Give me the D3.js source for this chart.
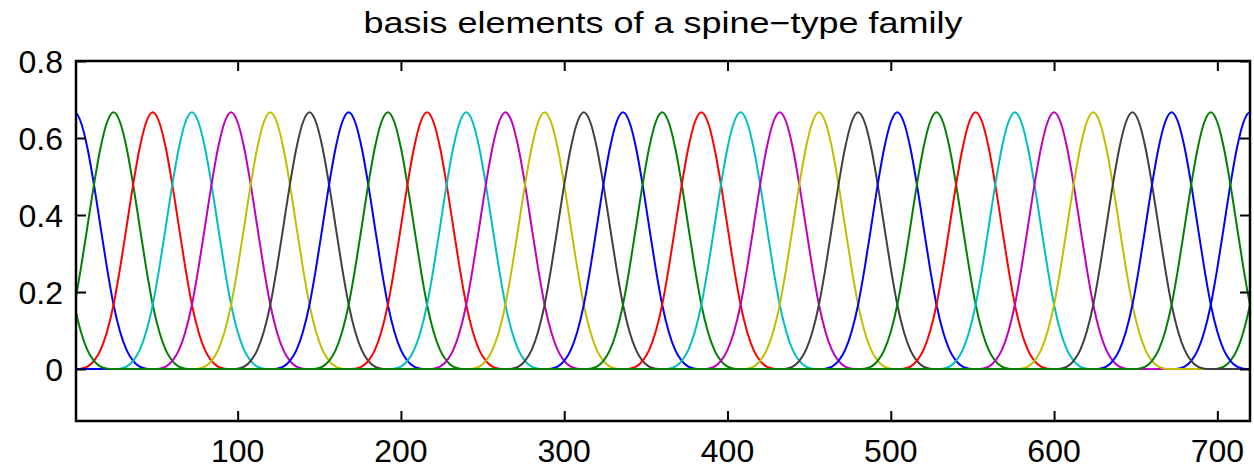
<!DOCTYPE html>
<html>
<head>
<meta charset="utf-8">
<script src="https://cdn.jsdelivr.net/npm/d3@7"></script>
<style>
    body { margin: 0; background: #fff; }
    svg { display: block; font-family: "Liberation Sans", Arial, sans-serif; }
    .tickLabel { font-size: 32px; fill: #000; }
    .chartTitle { font-size: 29px; fill: #000; }
</style>
</head>
<body>
<div id="chart" style="width:1254px;height:471px;"><svg width="1254" height="471"></svg></div>
<script>

// centres of the basis bumps (one period of 720)
const centres = [0, 24, 48, 72, 96, 120, 144, 168, 192, 216, 240, 264, 288, 312, 336,
                 360, 384, 408, 432, 456, 480, 504, 528, 552, 576, 600, 624, 648, 672, 696];

// shape of a single bump (offset from centre, height)
const bumpOffsets = [-48, -44, -40, -36, -32, -28, -24, -20, -16, -12, -8, -4, 0,
                     4, 8, 12, 16, 20, 24, 28, 32, 36, 40, 44, 48];
const bumpValues = [0, 0.001, 0.006, 0.021, 0.049, 0.097, 0.167, 0.262, 0.370, 0.479, 0.574, 0.641, 0.667,
                    0.641, 0.574, 0.479, 0.370, 0.262, 0.167, 0.097, 0.049, 0.021, 0.006, 0.001, 0];

const period = 720;

// matlab style colour order
const lineColours = ["#0000ff", "#008000", "#ff0000", "#00bfbf", "#bf00bf", "#bfbf00", "#404040"];

const xTicks = [100, 200, 300, 400, 500, 600, 700];
const yTicks = [0, 0.2, 0.4, 0.6, 0.8];

const titleText = "basis elements of a spine\u2212type family";

function makePlot() {

    /**********************
    ***** BASIC SETUP *****
    **********************/

    const width = 1254;
    const height = 471;
    const margin = {top: 61, left: 76, right: 4, bottom: 50};

    const svg = d3.select("#chart").select("svg");

    /***********************
    ***** X & Y SCALES *****
    ***********************/

    const xScale = d3.scaleLinear()
        .domain([1, period])
        .range([margin.left, width - margin.right]);

    const yScale = d3.scaleLinear()
        .domain([-0.135, 0.8])
        .range([height - margin.bottom, margin.top]);

    /*************************
    ***** DATA WRANGLING *****
    *************************/

    // each curve repeats every period, so lay the bump down at -720, 0, +720
    const curves = centres.map((c, i) => {
        let pts = [];
        [-period, 0, period].forEach(shift => {
            bumpOffsets.forEach((o, j) => {
                pts.push({x: c + shift + o, y: bumpValues[j]});
            });
        });
        pts.sort((a, b) => a.x - b.x);
        return {colour: lineColours[i % lineColours.length], points: pts};
    });

    /****************
    ***** LINES *****
    ****************/

    svg.append("clipPath")
        .attr("id", "plotClip")
        .append("rect")
        .attr("x", xScale.range()[0])
        .attr("y", yScale.range()[1])
        .attr("width", xScale.range()[1] - xScale.range()[0])
        .attr("height", yScale.range()[0] - yScale.range()[1]);

    const line = d3.line()
        .x(d => xScale(d.x))
        .y(d => yScale(d.y))
        .curve(d3.curveMonotoneX);

    svg.append("g")
        .attr("clip-path", "url(#plotClip)")
        .selectAll(".basisLine")
        .data(curves)
        .enter()
        .append("path")
        .attr("class", "basisLine")
        .attr("d", d => line(d.points))
        .attr("fill", "none")
        .attr("stroke", d => d.colour)
        .attr("stroke-width", 2);

    /***************
    ***** AXES *****
    ***************/

    const plotH = yScale.range()[0] - yScale.range()[1];
    const plotW = xScale.range()[1] - xScale.range()[0];

    // inward ticks on all four sides, like matlab's box
    svg.append("g")
        .attr("transform", `translate(0, ${yScale.range()[0]})`)
        .call(d3.axisBottom(xScale).tickValues(xTicks).tickSizeInner(-10).tickSizeOuter(0).tickFormat(""));

    svg.append("g")
        .attr("transform", `translate(0, ${yScale.range()[1]})`)
        .call(d3.axisTop(xScale).tickValues(xTicks).tickSizeInner(-10).tickSizeOuter(0).tickFormat(""));

    svg.append("g")
        .attr("transform", `translate(${xScale.range()[0]}, 0)`)
        .call(d3.axisLeft(yScale).tickValues(yTicks).tickSizeInner(-10).tickSizeOuter(0).tickFormat(""));

    svg.append("g")
        .attr("transform", `translate(${xScale.range()[1]}, 0)`)
        .call(d3.axisRight(yScale).tickValues(yTicks).tickSizeInner(-10).tickSizeOuter(0).tickFormat(""));

    svg.selectAll(".domain").remove();
    svg.selectAll(".tick line")
        .attr("stroke", "#000")
        .attr("stroke-width", 2);

    // frame
    svg.append("rect")
        .attr("x", xScale.range()[0])
        .attr("y", yScale.range()[1])
        .attr("width", plotW)
        .attr("height", plotH)
        .attr("fill", "none")
        .attr("stroke", "#000")
        .attr("stroke-width", 2.5);

    // tick labels
    svg.selectAll(".xLabel")
        .data(xTicks)
        .enter()
        .append("text")
        .attr("class", "tickLabel xLabel")
        .attr("x", d => xScale(d))
        .attr("y", 462)
        .attr("text-anchor", "middle")
        .text(d => d);

    svg.selectAll(".yLabel")
        .data(yTicks)
        .enter()
        .append("text")
        .attr("class", "tickLabel yLabel")
        .attr("x", xScale.range()[0] - 13)
        .attr("y", d => yScale(d))
        .attr("dy", "0.36em")
        .attr("text-anchor", "end")
        .text(d => d3.format("~g")(d));

    /****************
    ***** TITLE *****
    ****************/

    // the reference font runs wider than Liberation Sans, so stretch to its width
    svg.append("text")
        .attr("class", "chartTitle")
        .attr("x", (xScale.range()[0] + xScale.range()[1]) / 2)
        .attr("y", 33)
        .attr("text-anchor", "middle")
        .attr("textLength", 599)
        .attr("lengthAdjust", "spacingAndGlyphs")
        .text(titleText);
}

makePlot();
</script>
</body>
</html>
